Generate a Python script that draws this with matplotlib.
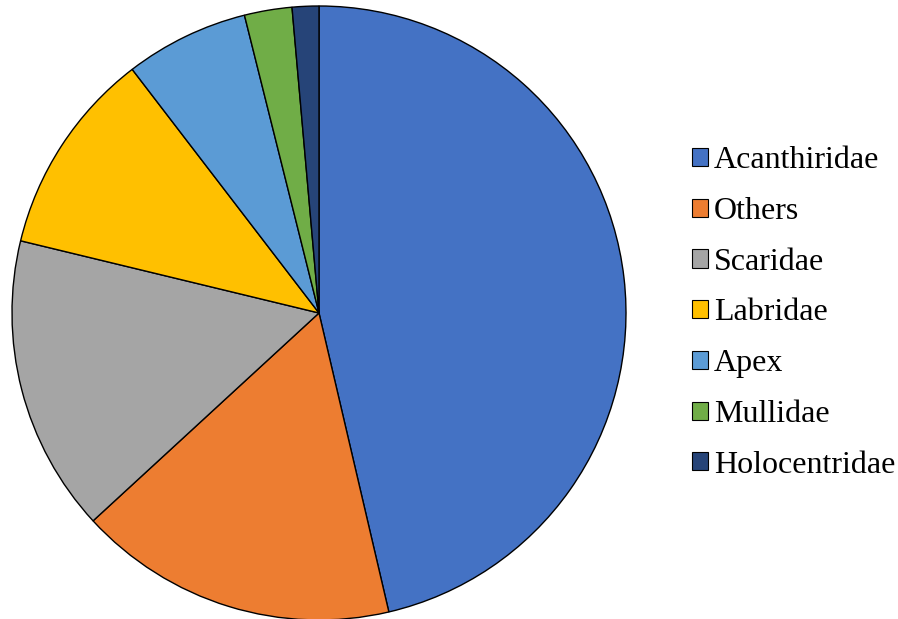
import matplotlib.pyplot as plt
from matplotlib.patches import Patch

plt.rcParams['font.family'] = ['Liberation Serif', 'DejaVu Serif']

families = ["Acanthiridae", "Others", "Scaridae", "Labridae", "Apex", "Mullidae", "Holocentridae"]
shares = [46.3, 16.8, 15.6, 10.8, 6.5, 2.5, 1.4]
colors = ["#4472C4", "#ED7D31", "#A5A5A5", "#FFC000", "#5B9BD5", "#70AD47", "#264478"]

W, H = 898, 619
fig = plt.figure(figsize=(W / 100, H / 100), dpi=100)

# pie centred at (319, 313) px with radius 307 px
cx, cy, r = 319, 313, 307
ax = fig.add_axes([(cx - r) / W, (H - cy - r) / H, 2 * r / W, 2 * r / H])
ax.pie(shares, colors=colors, startangle=90, counterclock=False,
       wedgeprops=dict(edgecolor="black", linewidth=1.0), radius=1.0)
ax.set_xlim(-1, 1)
ax.set_ylim(-1, 1)
ax.set_aspect("equal")
ax.axis("off")

handles = [Patch(facecolor=c, edgecolor="black", linewidth=0.8) for c in colors]
fig.legend(handles, families, loc="center left", bbox_to_anchor=(692 / W, 1 - 313 / H),
           frameon=False, fontsize=23, handlelength=0.5, handleheight=0.5,
           handletextpad=0.19, labelspacing=0.68, borderaxespad=0, borderpad=0)

fig.savefig("out.png", dpi=100)
